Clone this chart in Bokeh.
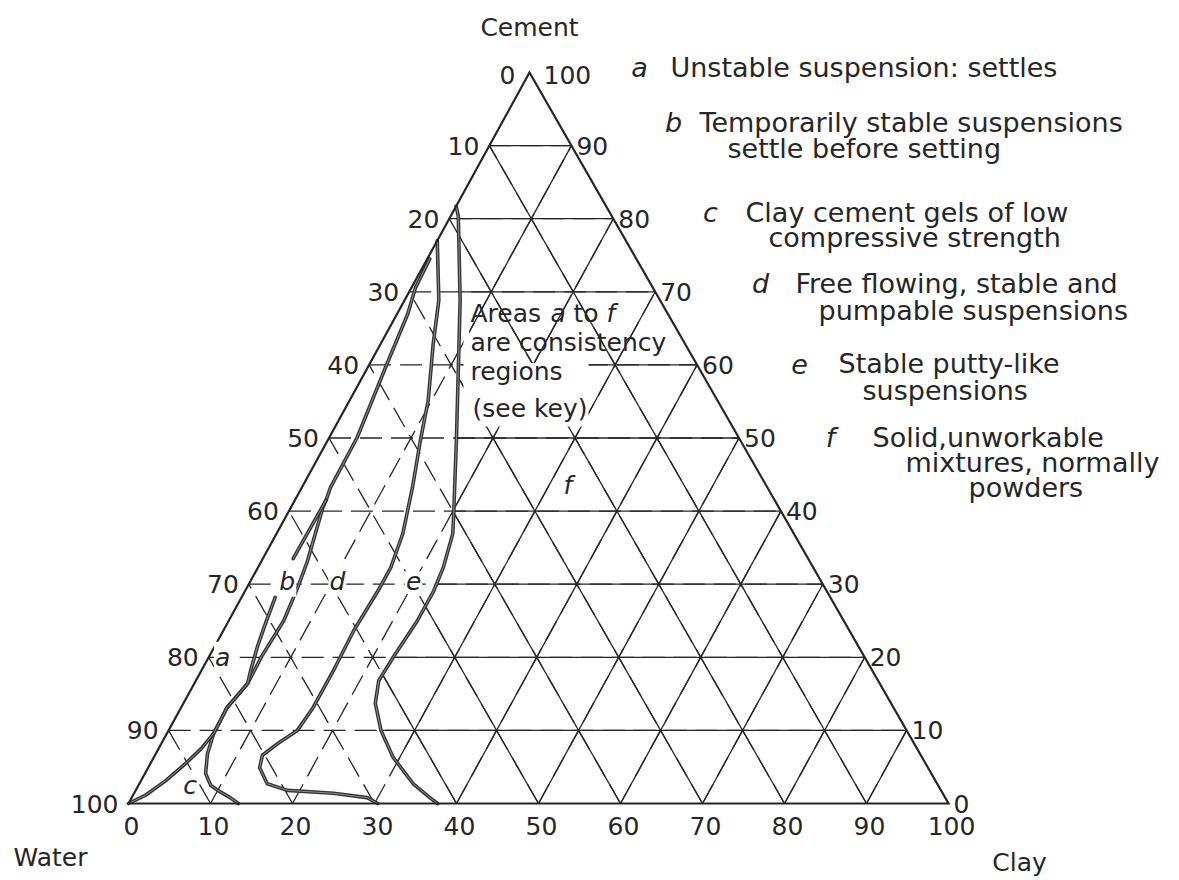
from bokeh.plotting import figure
from bokeh.models import Range1d, Label
from bokeh.embed import file_html
from bokeh.resources import INLINE

# Page positions (px) of the three corners: Water (bottom-left), Clay (bottom-right), Cement (top)
WATER_XY = (128.0, 803.0)
CLAY_XY = (948.0, 803.0)
CEMENT_XY = (529.0, 72.0)

FONT = "DejaVu Sans"
INK = "#262626"

# Scale values (%)
ticks = [0, 10, 20, 30, 40, 50, 60, 70, 80, 90, 100]
tick_labels = [str(t) for t in ticks]

# Consistency boundaries as (clay %, cement %); water = 100 - clay - cement
# e | f : putty-like / solid
ef_clay = [0.0, 0.9, 6.8, 10.8, 15.5, 20.2, 21.5, 22.6, 23.0, 23.0, 22.5, 22.3, 23.4, 25.9, 29.2, 33.4, 37.0, 37.7]
ef_cement = [81.7, 80.4, 68.8, 60.2, 50.1, 39.8, 36.9, 32.3, 29.1, 25.0, 20.0, 16.8, 13.7, 10.0, 6.3, 2.7, 0.4, 0.0]
# d | e : free flowing / putty-like
de_clay = [0.0, 4.2, 6.4, 9.6, 11.3, 13.5, 15.4, 16.2, 16.2, 15.9, 16.1, 16.1, 15.7, 14.2, 13.1, 13.6, 15.6, 18.5, 24.3, 28.7, 30.4]
de_cement = [77.0, 68.8, 62.9, 55.1, 49.7, 43.2, 36.9, 32.3, 29.1, 23.7, 18.2, 13.1, 10.0, 8.2, 6.6, 4.9, 2.7, 1.8, 1.4, 0.8, 0.0]
# b | d and c | d
bd_clay = [0.3, 0.5, 1.3, 2.1, 3.4, 3.5, 3.8, 3.9, 5.6, 6.2, 6.7, 6.4, 6.5, 5.6, 5.7, 6.3, 7.4, 8.8, 10.0, 12.0, 13.4]
bd_cement = [74.5, 70.5, 67.0, 60.2, 50.1, 43.2, 41.5, 40.5, 33.2, 29.5, 25.0, 20.2, 16.4, 13.1, 9.6, 6.8, 4.1, 2.5, 1.8, 0.8, 0.0]
# a | b (upper piece) and a | c (lower piece)
ab_clay = [3.8, 3.7]
ab_cement = [41.5, 33.5]
ac_clay = [4.1, 4.6, 5.2, 6.0, 6.5, 5.6, 5.7, 5.2, 4.3, 3.0, 1.5, 0.0]
ac_cement = [28.2, 25.0, 21.6, 18.2, 16.4, 13.1, 9.6, 7.5, 5.5, 3.1, 1.1, 0.0]

# Region letters placed at (clay %, cement %)
region_names = ["a", "b", "c", "d", "e", "f"]
region_clay = [1.7, 4.5, 6.3, 10.6, 19.9, 32.3]
region_cement = [20.0, 30.4, 2.5, 30.4, 30.4, 43.5]

# Key
key_letters = ["a", "b", "c", "d", "e", "f"]
key_lines = [
    ["Unstable suspension: settles"],
    ["Temporarily stable suspensions", "settle before setting"],
    ["Clay cement gels of low", "compressive strength"],
    ["Free flowing, stable and", "pumpable suspensions"],
    ["Stable putty-like", "suspensions"],
    ["Solid,unworkable", "mixtures, normally", "powders"],
]


def tx(clay, cement):
    return (WATER_XY[0] + (CLAY_XY[0] - WATER_XY[0]) * clay / 100.0
            + (CEMENT_XY[0] - WATER_XY[0]) * cement / 100.0)


def ty(clay, cement):
    return (WATER_XY[1] + (CLAY_XY[1] - WATER_XY[1]) * clay / 100.0
            + (CEMENT_XY[1] - WATER_XY[1]) * cement / 100.0)


def to_xy(clays, cements):
    return [tx(a, b) for a, b in zip(clays, cements)], [ty(a, b) for a, b in zip(clays, cements)]


p = figure(width=1179, height=880, x_range=Range1d(0, 1179), y_range=Range1d(880, 0),
           output_backend="svg", toolbar_location=None, min_border=0)
p.axis.visible = False
p.grid.visible = False
p.outline_line_color = None
p.background_fill_color = "white"
p.border_fill_color = "white"

# 10 % grid: constant cement, constant clay and constant water lines
gx, gy = [], []
for k in ticks[1:-1]:
    for c0, m0, c1, m1 in [(0, k, 100 - k, k), (k, 0, k, 100 - k), (100 - k, 0, 0, 100 - k)]:
        xs, ys = to_xy([c0, c1], [m0, m1])
        gx.append(xs)
        gy.append(ys)
p.multi_line(gx, gy, line_color=INK, line_width=1.3)

# The fluid side of the e|f boundary is ruled with broken lines
mx, my = to_xy([0.0] + ef_clay, [0.0] + ef_cement)
p.patch(mx, my, fill_color="white", line_color=None)
p.multi_line(gx, gy, line_color=INK, line_width=1.3, line_dash="22 9")

# Blank panel behind the note
note_x, note_y = 470, 313
p.quad(left=[note_x - 7, note_x - 7], right=[tx(0, 70) + 60, note_x + 118],
       top=[ty(0, 70) + 3, ty(0, 60) - 2], bottom=[ty(0, 60) - 2, note_y + 113],
       fill_color="white", line_color=None)

# Boundaries, inked as a heavy pen stroke with a lighter core
for cl, ce in [(ef_clay, ef_cement), (de_clay, de_cement), (bd_clay, bd_cement),
               (ab_clay, ab_cement), (ac_clay, ac_cement)]:
    xs, ys = to_xy(cl, ce)
    p.line(xs, ys, line_color="#333333", line_width=3.6, line_join="round", line_cap="round")
    p.line(xs, ys, line_color="#8f8f8f", line_width=1.0, line_join="round", line_cap="round")

# Triangle
tri_x, tri_y = to_xy([0, 100, 0, 0], [0, 0, 100, 0])
p.line(tri_x, tri_y, line_color=INK, line_width=2.2, line_join="miter")


def label(x, y, text, align="left", size="25px", style="normal", bg=None):
    kw = dict(x=x, y=y, text=text, text_align=align, text_baseline="middle",
              text_font=FONT, text_font_size=size, text_font_style=style, text_color=INK)
    if bg:
        kw.update(background_fill_color=bg, padding=1)
    p.add_layout(Label(**kw))


# Scale numbers: water on the left side, cement on the right, clay along the base
for t, s in zip(ticks, tick_labels):
    cem = 100 - t
    if t == 0:
        label(tx(0, 100) - 14, ty(0, 100) + 2, s, align="right")
    else:
        label(tx(0, cem) - 10, ty(0, cem), s, align="right")
for t, s in zip(ticks, tick_labels):
    if t == 100:
        label(tx(0, 100) + 14, ty(0, 100) + 2, s, align="left")
    else:
        label(tx(100 - t, t) + 5, ty(100 - t, t), s, align="left")
for t, s in zip(ticks, tick_labels):
    label(tx(t, 0) + 3, ty(t, 0) + 22, s, align="center")

# Corner names
label(tx(0, 100), 27, "Cement", align="center")
label(50, 857, "Water", align="center")
label(1019, 862, "Clay", align="center")

# Region letters
for n, cl, ce in zip(region_names, region_clay, region_cement):
    label(tx(cl, ce), ty(cl, ce), n, align="center", style="italic", bg="white")

# Note
NOTE_SIZE = "25px"
label(note_x, note_y, "Areas", size=NOTE_SIZE)
label(note_x + 80, note_y, "a", size=NOTE_SIZE, style="italic")
label(note_x + 103, note_y, "to", size=NOTE_SIZE)
label(note_x + 136, note_y, "f", size=NOTE_SIZE, style="italic")
label(note_x, note_y + 29, "are consistency", size=NOTE_SIZE)
label(note_x, note_y + 58, "regions", size=NOTE_SIZE)
label(note_x + 2, note_y + 95, "(see key)", size=NOTE_SIZE)

# Key: letter position, line starts and rows
KEY_SIZE = "27px"
key_letter_x = [639, 673, 710, 760, 799, 830]
key_text_x = [[670], [699, 727], [745, 768], [795, 818], [838, 862], [872, 905, 968]]
key_y = [[67], [122, 148], [212, 237], [283, 310], [363, 390], [437, 462, 487]]
for letter, lx, lines, xs, ys in zip(key_letters, key_letter_x, key_lines, key_text_x, key_y):
    label(lx, ys[0], letter, align="center", style="italic", size=KEY_SIZE)
    for s, x, y in zip(lines, xs, ys):
        label(x, y, s, align="left", size=KEY_SIZE)

open("out.html", "w").write(file_html(p, INLINE))
